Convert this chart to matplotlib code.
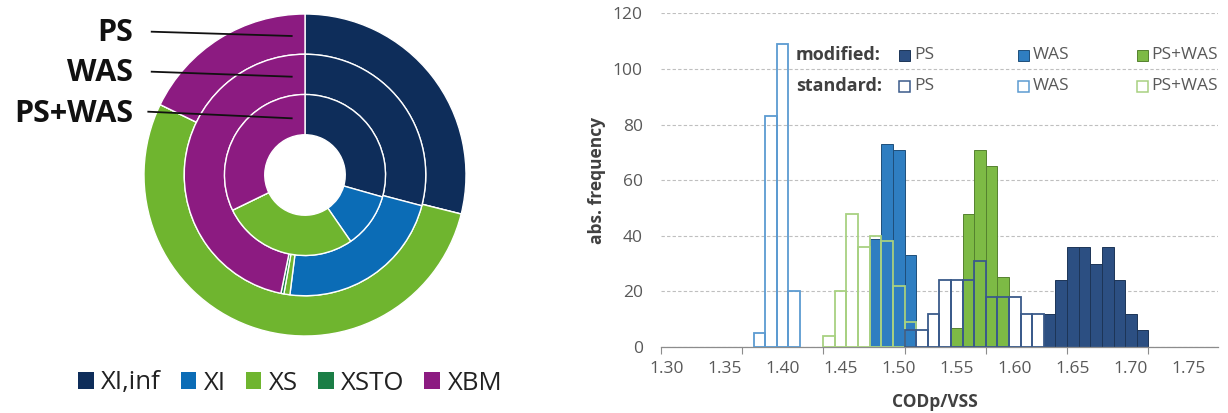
import numpy as np
import matplotlib.pyplot as plt
from matplotlib.patches import Patch, Rectangle

plt.rcParams['font.family'] = ['Open Sans', 'DejaVu Sans']

# sludge fractions (% of COD) per ring, clockwise from 12 o'clock
fractions = ["XI,inf", "XI", "XS", "XSTO", "XBM"]
frac_colors = ["#0E2D5A", "#0B6CB6", "#6FB52F", "#1B7E46", "#8C1B81"]
ps_share = [28.9, 0.0, 53.3, 0.0, 17.8]
was_share = [29.1, 22.9, 0.8, 0.4, 46.8]
pswas_share = [29.4, 11.0, 27.4, 0.0, 32.2]
ring_names = ["PS", "WAS", "PS+WAS"]

# histograms of CODp/VSS, bins of 0.01
std_was_x = [1.38, 1.39, 1.40, 1.41]
std_was_n = [5, 83, 109, 20]
std_pswas_x = [1.44, 1.45, 1.46, 1.47, 1.48, 1.49, 1.50, 1.51]
std_pswas_n = [4, 20, 48, 36, 40, 38, 22, 9]
std_ps_x = [1.51, 1.52, 1.53, 1.54, 1.55, 1.56, 1.57, 1.58, 1.59, 1.60, 1.61, 1.62]
std_ps_n = [6, 6, 12, 24, 24, 24, 31, 18, 18, 18, 12, 12]
mod_was_x = [1.48, 1.49, 1.50, 1.51]
mod_was_n = [39, 73, 71, 33]
mod_pswas_x = [1.55, 1.56, 1.57, 1.58, 1.59]
mod_pswas_n = [7, 48, 71, 65, 25]
mod_ps_x = [1.63, 1.64, 1.65, 1.66, 1.67, 1.68, 1.69, 1.70, 1.71]
mod_ps_n = [12, 24, 36, 36, 30, 36, 24, 12, 6]

x_labels = ["1.30", "1.35", "1.40", "1.45", "1.50", "1.55", "1.60", "1.65", "1.70", "1.75"]
x_marks = [1.295, 1.365, 1.435, 1.505, 1.575, 1.645, 1.715]

c_ps, c_was, c_pswas = "#2C4F82", "#2F7EC1", "#7DBA45"
e_ps, e_was, e_pswas = "#1D3557", "#1F4F7A", "#55822F"
s_ps, s_was, s_pswas = "#3A5A8A", "#5C9BD1", "#A8D181"
txt_gray = "#595959"
txt_dark = "#404040"

W, H = 1228, 413
fig = plt.figure(figsize=(W / 100, H / 100), dpi=100)

# ---- nested donut ----
cx, cy, r_px = 305, 175, 161
half = 170
ax_d = fig.add_axes([(cx - half) / W, (H - cy - half) / H, 2 * half / W, 2 * half / H])
wp = dict(width=0.25, edgecolor="white", linewidth=1.0)
for share, rad in zip([ps_share, was_share, pswas_share], [1.0, 0.75, 0.5]):
    ax_d.pie(share, radius=rad, colors=frac_colors, startangle=90, counterclock=False,
             wedgeprops=wp)
ax_d.set_xlim(-half / r_px, half / r_px)
ax_d.set_ylim(-half / r_px, half / r_px)
ax_d.axis("off")

handles = [Patch(facecolor=c, edgecolor="none") for c in frac_colors]
fig.legend(handles, fractions, ncol=5, loc="center", bbox_to_anchor=(290 / W, 1 - 383 / H),
           frameon=False, fontsize=18.5, handlelength=0.62, handleheight=0.62,
           handletextpad=0.3, columnspacing=0.75, labelcolor="#222222")

# ---- histogram ----
x0_px, x1_px, y0_px, y1_px = 660.7, 1218, 347, 13.3
ax = fig.add_axes([x0_px / W, (H - y0_px) / H, (x1_px - x0_px) / W, (y0_px - y1_px) / H])

for xs, ns, fc, ec in [(mod_was_x, mod_was_n, c_was, e_was),
                       (mod_pswas_x, mod_pswas_n, c_pswas, e_pswas),
                       (mod_ps_x, mod_ps_n, c_ps, e_ps)]:
    ax.bar(xs, ns, width=0.01, color=fc, edgecolor=ec, linewidth=0.7, zorder=2)
for xs, ns, ec in [(std_was_x, std_was_n, s_was),
                   (std_pswas_x, std_pswas_n, s_pswas),
                   (std_ps_x, std_ps_n, s_ps)]:
    ax.bar(xs, ns, width=0.01, fill=False, edgecolor=ec, linewidth=1.3, zorder=3)

ax.set_xlim(1.295, 1.775)
ax.set_ylim(0, 120)
ax.set_xticks([float(v) for v in x_labels])
ax.set_xticklabels(x_labels)
ax.set_xticks(x_marks, minor=True)
ax.set_yticks(np.arange(0, 121, 20))
ax.tick_params(axis="x", which="major", length=0, pad=10, labelsize=12.5, labelcolor=txt_gray)
ax.tick_params(axis="x", which="minor", length=5, width=0.8, color="#8C8C8C")
ax.tick_params(axis="y", length=0, pad=13, labelsize=12.5, labelcolor=txt_gray)
ax.yaxis.grid(True, linestyle=(0, (3, 2)), color="#BFBFBF", linewidth=0.8)
ax.set_axisbelow(True)
for side in ["left", "right", "top"]:
    ax.spines[side].set_visible(False)
ax.spines["bottom"].set_color("#8C8C8C")
ax.spines["bottom"].set_linewidth(0.9)

fig.text(597 / W, 1 - 180 / H, "abs. frequency", rotation=90, ha="center", va="center",
         fontsize=12.5, fontweight="bold", color=txt_dark)
fig.text(935 / W, 1 - 402 / H, "CODp/VSS", ha="center", va="center",
         fontsize=12.5, fontweight="bold", color=txt_dark)

# ---- overlay in pixel coordinates for labels and legend ----
ov = fig.add_axes([0, 0, 1, 1], zorder=5)
ov.set_xlim(0, W)
ov.set_ylim(H, 0)
ov.axis("off")

label_y = [33, 73, 114]
line_pts = [((151.7, 31.7), (291.7, 36.0)),
            ((151.7, 71.7), (291.7, 76.7)),
            ((148.3, 111.7), (291.7, 118.3))]
for name, ly, (p, q) in zip(ring_names, label_y, line_pts):
    ov.text(133, ly, name, ha="right", va="center", fontsize=22, fontweight="bold", color="#111111")
    ov.plot([p[0], q[0]], [p[1], q[1]], color="#111111", lw=1.3)

ov.text(795.7, 55, "modified:", ha="left", va="center", fontsize=13, fontweight="bold", color=txt_dark)
ov.text(795.7, 86, "standard:", ha="left", va="center", fontsize=13, fontweight="bold", color=txt_dark)
series_names = ["PS", "WAS", "PS+WAS"]
sq_x = [899, 1018, 1136.5]
for name, sx, fc, ec, sc in zip(series_names, sq_x, [c_ps, c_was, c_pswas],
                                [e_ps, e_was, e_pswas], [s_ps, s_was, s_pswas]):
    ov.add_patch(Rectangle((sx, 50), 11, 11, facecolor=fc, edgecolor=ec, lw=0.7))
    ov.add_patch(Rectangle((sx, 81), 11, 11, facecolor="white", edgecolor=sc, lw=1.1))
    ov.text(sx + 15, 55, name, ha="left", va="center", fontsize=12.5, color=txt_gray)
    ov.text(sx + 15, 86, name, ha="left", va="center", fontsize=12.5, color=txt_gray)

fig.savefig("out.png", dpi=100)
plt.close()
